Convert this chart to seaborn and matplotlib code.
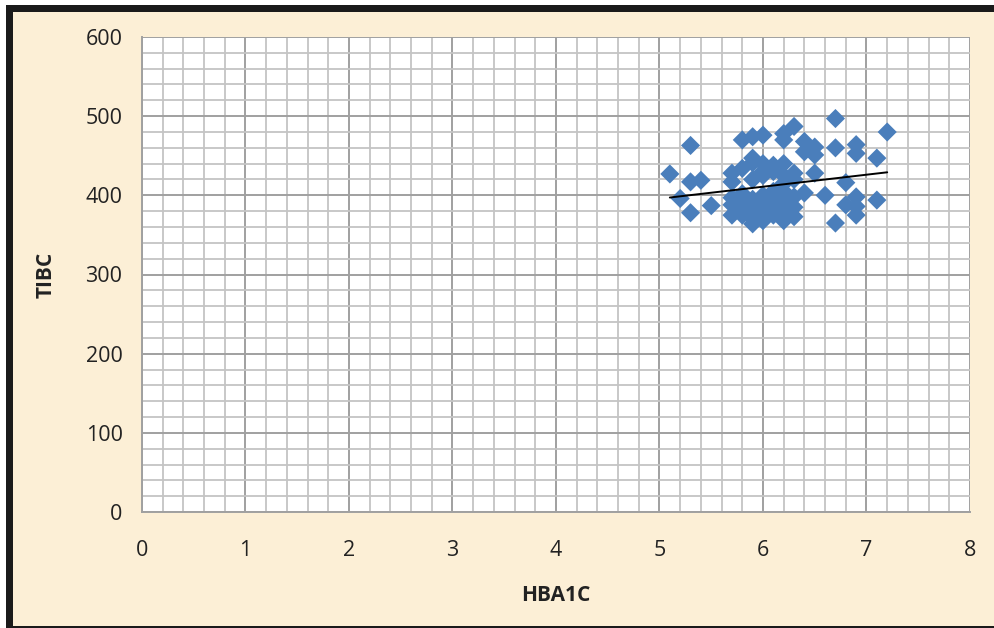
"""Scatter of TIBC against HbA1c with a linear trend line, Excel-style grid."""
import matplotlib
matplotlib.use("Agg")
import matplotlib.pyplot as plt
from matplotlib.patches import Rectangle
from matplotlib.ticker import MultipleLocator
import pandas as pd
import seaborn as sns

# values (the dense middle is partly guessed)
hba1c = [
    5.1, 5.2, 5.3, 5.3, 5.3, 5.4, 5.5,
    5.7, 5.7, 5.7, 5.7, 5.7,
    5.8, 5.8, 5.8, 5.8, 5.8, 5.8,
    5.9, 5.9, 5.9, 5.9, 5.9, 5.9, 5.9, 5.9, 5.9, 5.9,
    6.0, 6.0, 6.0, 6.0, 6.0, 6.0, 6.0, 6.0, 6.0, 6.0, 6.0,
    6.1, 6.1, 6.1, 6.1, 6.1, 6.1, 6.1, 6.1, 6.1,
    6.2, 6.2, 6.2, 6.2, 6.2, 6.2, 6.2, 6.2, 6.2, 6.2, 6.2,
    6.3, 6.3, 6.3, 6.3, 6.3, 6.3,
    6.4, 6.4, 6.4,
    6.5, 6.5, 6.5,
    6.6,
    6.7, 6.7, 6.7,
    6.8, 6.8,
    6.9, 6.9, 6.9, 6.9, 6.9,
    7.1, 7.1,
    7.2,
]
tibc = [
    427, 396, 463, 417, 378, 419, 387,
    428, 417, 388, 375, 397,
    470, 434, 402, 380, 392, 375,
    474, 447, 441, 371, 364, 395, 385, 420, 380, 390,
    476, 440, 430, 388, 380, 368, 395, 425, 385, 372, 400,
    438, 405, 400, 385, 375, 430, 395, 380, 390,
    478, 470, 440, 425, 405, 390, 378, 368, 415, 383, 395,
    487, 428, 398, 373, 420, 385,
    468, 455, 403,
    461, 451, 428,
    400,
    497, 460, 365,
    416, 388,
    464, 453, 398, 375, 386,
    447, 394,
    480,
]

df = pd.DataFrame({"HBA1C": hba1c, "TIBC": tibc})

sns.set_theme(style="white")
plt.rcParams["font.family"] = ["Open Sans", "DejaVu Sans"]

BEIGE = "#FCEFD6"
BLUE = "#4A7EBB"

fig = plt.figure(figsize=(9.95, 6.28), dpi=100, facecolor="white")
W, H = 995, 628


def px_rect(x0, y0, x1, y1, color):
    """Rectangle in figure pixels measured from the top-left corner."""
    fig.patches.append(Rectangle((x0 / W, 1 - y1 / H), (x1 - x0) / W, (y1 - y0) / H,
                                 transform=fig.transFigure, facecolor=color,
                                 edgecolor="none", zorder=-5))


px_rect(6, 5, W, H, BEIGE)
px_rect(6, 5, W, 12, "#1a1a1a")
px_rect(6, 5, 13, H, "#1a1a1a")
px_rect(6, H - 2, W, H, "#1a1a1a")

ax = fig.add_axes([142 / W, 1 - 512 / H, (970 - 142) / W, (512 - 37) / H])
ax.set_facecolor("white")

sns.scatterplot(data=df, x="HBA1C", y="TIBC", marker="D", s=95, color=BLUE,
                edgecolor="none", linewidth=0, ax=ax, zorder=3)
sns.regplot(data=df, x="HBA1C", y="TIBC", scatter=False, ci=None, ax=ax,
            line_kws={"color": "black", "lw": 1.4, "zorder": 4})

ax.set_xlim(0, 8)
ax.set_ylim(0, 600)
ax.xaxis.set_major_locator(MultipleLocator(1))
ax.xaxis.set_minor_locator(MultipleLocator(0.2))
ax.yaxis.set_major_locator(MultipleLocator(100))
ax.yaxis.set_minor_locator(MultipleLocator(20))
ax.grid(which="major", color="#A0A0A0", lw=1.4)
ax.grid(which="minor", color="#C4C4C4", lw=1.3)
ax.set_axisbelow(True)

for side in ("top", "right"):
    ax.spines[side].set_visible(False)
for side in ("left", "bottom"):
    ax.spines[side].set_color("#A0A0A0")
    ax.spines[side].set_linewidth(1.4)

ax.tick_params(which="major", length=8, width=1.3, color="#A0A0A0",
               labelsize=15.5, labelcolor="#222222", pad=6)
ax.tick_params(which="minor", length=0)
ax.tick_params(axis="x", pad=12)

ax.set_xlabel("HBA1C", fontsize=15, fontweight="bold", color="#222222")
ax.set_ylabel("TIBC", fontsize=15, fontweight="bold", color="#222222")
ax.xaxis.set_label_coords(0.5, -0.153)
ax.yaxis.set_label_coords(-0.103, 0.5)

fig.savefig("out.png", dpi=100, facecolor=fig.get_facecolor())
